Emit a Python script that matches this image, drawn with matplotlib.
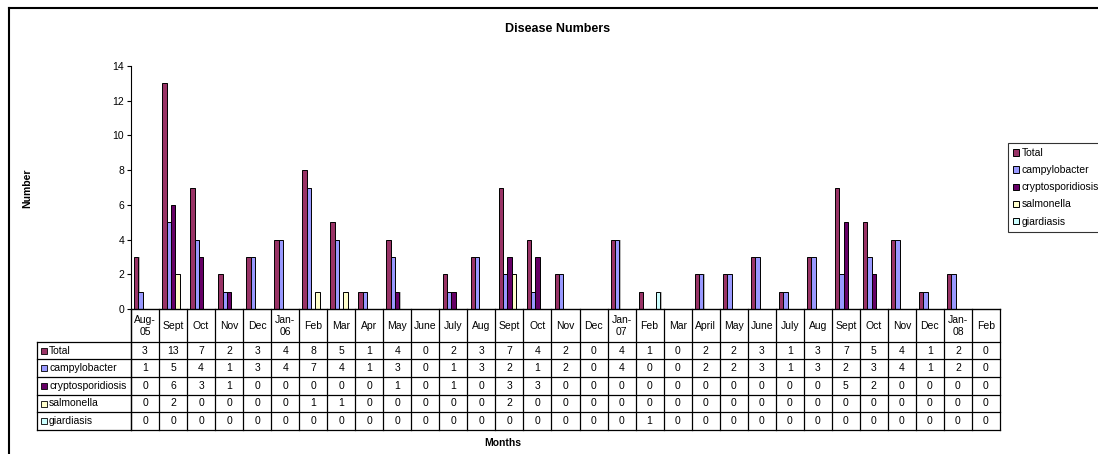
"""
Disease numbers by month - Excel style column chart with data table.
"""

import numpy as np
import matplotlib
matplotlib.use("Agg")
import matplotlib.pyplot as plt
from matplotlib.lines import Line2D
from matplotlib.patches import Rectangle
from matplotlib.transforms import blended_transform_factory

plt.rcParams['font.family'] = ['Liberation Sans', 'DejaVu Sans']

months = ['Aug-\n05', 'Sept', 'Oct', 'Nov', 'Dec', 'Jan-\n06', 'Feb', 'Mar', 'Apr', 'May',
          'June', 'July', 'Aug', 'Sept', 'Oct', 'Nov', 'Dec', 'Jan-\n07', 'Feb', 'Mar',
          'April', 'May', 'June', 'July', 'Aug', 'Sept', 'Oct', 'Nov', 'Dec', 'Jan-\n08', 'Feb']
total = [3, 13, 7, 2, 3, 4, 8, 5, 1, 4, 0, 2, 3, 7, 4, 2, 0, 4, 1, 0, 2, 2, 3, 1, 3, 7, 5, 4, 1, 2, 0]
campylobacter = [1, 5, 4, 1, 3, 4, 7, 4, 1, 3, 0, 1, 3, 2, 1, 2, 0, 4, 0, 0, 2, 2, 3, 1, 3, 2, 3, 4, 1, 2, 0]
cryptosporidiosis = [0, 6, 3, 1, 0, 0, 0, 0, 0, 1, 0, 1, 0, 3, 3, 0, 0, 0, 0, 0, 0, 0, 0, 0, 0, 5, 2, 0, 0, 0, 0]
salmonella = [0, 2, 0, 0, 0, 0, 1, 1, 0, 0, 0, 0, 0, 2, 0, 0, 0, 0, 0, 0, 0, 0, 0, 0, 0, 0, 0, 0, 0, 0, 0]
giardiasis = [0, 0, 0, 0, 0, 0, 0, 0, 0, 0, 0, 0, 0, 0, 0, 0, 0, 0, 1, 0, 0, 0, 0, 0, 0, 0, 0, 0, 0, 0, 0]

series_names = ['Total', 'campylobacter', 'cryptosporidiosis', 'salmonella', 'giardiasis']
series_values = [total, campylobacter, cryptosporidiosis, salmonella, giardiasis]
colors = ['#993366', '#9999FF', '#660066', '#FFFFCC', '#CCFFFF']

W, H = 1098, 454


def fx(px):
    return px / W


def fy(py):
    return 1 - py / H


fig = plt.figure(figsize=(W / 100, H / 100), dpi=100)
fig.patch.set_facecolor('white')

# outer chart frame (clipped at right/bottom like the original)
fig.add_artist(Line2D([fx(9), fx(9)], [fy(8), 0], color='black', lw=1.5))
fig.add_artist(Line2D([fx(9), 1], [fy(8), fy(8)], color='black', lw=1.5))

ax = fig.add_axes([fx(131), fy(309), fx(1000) - fx(131), (309 - 66) / H])

n = len(months)
x = np.arange(n)
width = 0.155
handles = []
for k, (vals, c) in enumerate(zip(series_values, colors)):
    pos = x + (k - 2) * width
    # light shadow on the right side of each column
    ax.bar(pos + 0.04, vals, width, color='#b8b8b8', linewidth=0, zorder=1)
    b = ax.bar(pos, vals, width, color=c, edgecolor='black', linewidth=0.7, zorder=2)
    handles.append(b)

ax.set_xlim(-0.5, n - 0.5)
ax.set_ylim(0, 14)
ax.set_yticks(np.arange(0, 15, 2))
ax.tick_params(axis='y', direction='out', length=3, width=0.8, labelsize=7.5, pad=2)
ax.set_xticks([])
for s in ['top', 'right']:
    ax.spines[s].set_visible(False)
ax.spines['left'].set_linewidth(0.8)
ax.spines['bottom'].set_linewidth(1.0)

# data table below the plot
trans = blended_transform_factory(ax.transData, fig.transFigure)
row_lines = [342, 359, 377, 395, 412, 430]
table_left = 37

for i in range(n + 1):
    fig.add_artist(Line2D([i - 0.5, i - 0.5], [fy(309), fy(430)], color='black', lw=0.9,
                          transform=trans))
fig.add_artist(Line2D([fx(table_left), fx(table_left)], [fy(342), fy(430)], color='black', lw=0.9))
fig.add_artist(Line2D([fx(131), fx(131)], [fy(309), fy(430)], color='black', lw=0.9))
for ry in row_lines:
    fig.add_artist(Line2D([fx(table_left), fx(1000)], [fy(ry), fy(ry)], color='black', lw=0.9))

for i, m in enumerate(months):
    fig.text(i, fy(326), m, transform=trans, ha='center', va='center', fontsize=7.5,
             linespacing=1.15)

for r, (name, vals, c) in enumerate(zip(series_names, series_values, colors)):
    yc = (row_lines[r] + row_lines[r + 1]) / 2
    fig.add_artist(Rectangle((fx(41), fy(yc + 3)), fx(6), 6 / H, facecolor=c,
                             edgecolor='black', linewidth=0.6))
    fig.text(fx(49), fy(yc), name, ha='left', va='center', fontsize=7.5)
    for i, v in enumerate(vals):
        fig.text(i, fy(yc), str(v), transform=trans, ha='center', va='center', fontsize=7.5)

# titles
fig.text(fx(558), fy(29), 'Disease Numbers', ha='center', va='center', fontsize=9,
         fontweight='bold')
fig.text(fx(27), fy(188), 'Number', ha='center', va='center', rotation=90, fontsize=7.5,
         fontweight='bold')
fig.text(fx(503), fy(443), 'Months', ha='center', va='center', fontsize=7.5,
         fontweight='bold')

# legend (runs off the right edge, as in the original)
leg = fig.legend(handles, series_names, loc='upper left', bbox_to_anchor=(fx(1008), fy(143)),
                 fontsize=7.5, frameon=True, fancybox=False, edgecolor='black',
                 handlelength=0.55, handleheight=0.55, handletextpad=0.25,
                 labelspacing=0.68, borderpad=0.5, borderaxespad=0)
leg.get_frame().set_linewidth(0.8)

fig.savefig('out.png', dpi=100)
